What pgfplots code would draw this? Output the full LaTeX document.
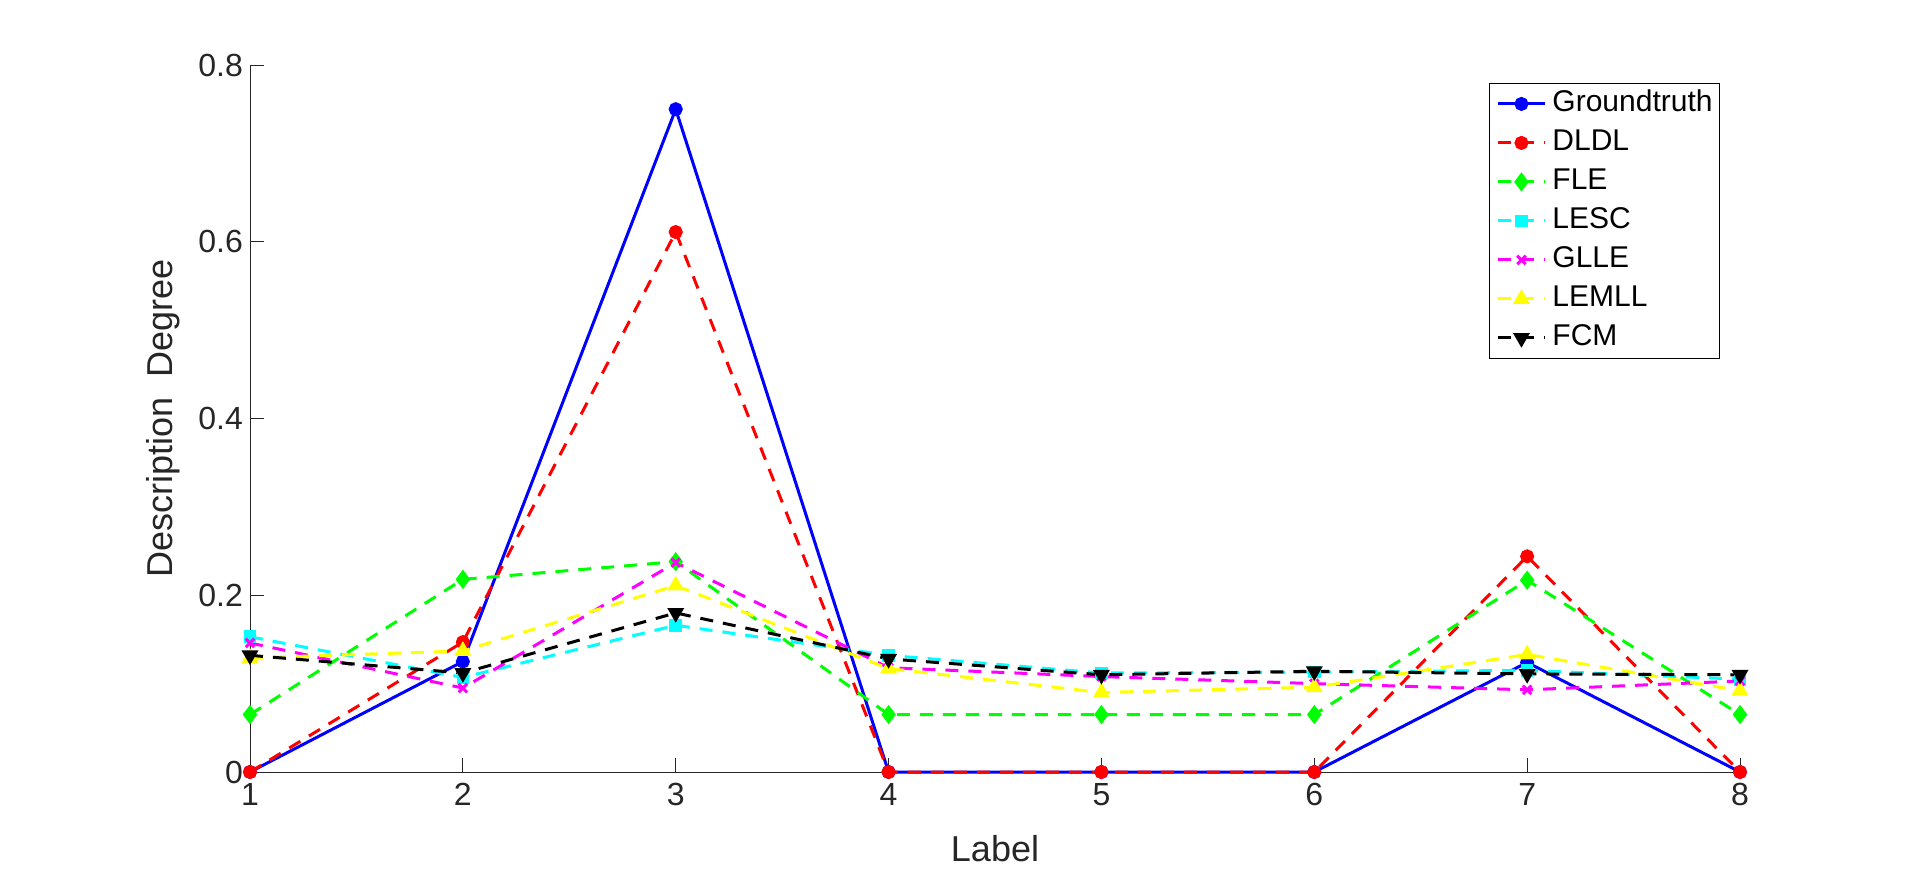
\documentclass[border=0pt]{standalone}
\usepackage{fontspec}
\setmainfont{Liberation Sans}
\usepackage{pgfplots}
\pgfplotsset{compat=1.18}
\usepackage{pgfplotstable}
\pgfplotstableread{
x GT DLDL FLE LESC GLLE LEMLL FCM
1 0 0 0.065 0.153 0.146 0.129 0.132
2 0.125 0.147 0.218 0.107 0.095 0.137 0.112
3 0.750 0.611 0.238 0.166 0.237 0.211 0.180
4 0 0 0.065 0.132 0.118 0.117 0.128
5 0 0 0.065 0.112 0.108 0.090 0.110
6 0 0 0.065 0.113 0.100 0.096 0.114
7 0.124 0.244 0.217 0.115 0.093 0.133 0.111
8 0 0 0.065 0.105 0.103 0.092 0.110
}\data
\definecolor{axgray}{rgb}{0.15,0.15,0.15}
\definecolor{mblue}{rgb}{0,0,1}
\definecolor{mred}{rgb}{1,0,0}
\definecolor{mgreen}{rgb}{0,1,0}
\definecolor{mcyan}{rgb}{0,1,1}
\definecolor{mmagenta}{rgb}{1,0,1}
\definecolor{myellow}{rgb}{1,1,0}
\definecolor{mblack}{rgb}{0,0,0}
\begin{document}
\begin{tikzpicture}
\path[use as bounding box] (0,0) rectangle (960pt,436pt);
\begin{axis}[
  at={(125pt,50pt)}, anchor=south west,
  scale only axis, width=745pt, height=353.5pt,
  xmin=1, xmax=8, ymin=0, ymax=0.8,
  xtick={1,2,3,4,5,6,7,8},
  ytick={0,0.2,0.4,0.6,0.8},
  axis x line*=bottom, axis y line*=left,
  tick align=inside,
  major tick length=7pt,
  axis line style={color=axgray, line width=0.5pt},
  tick style={color=axgray, line width=0.5pt},
  ticklabel style={color=axgray, font=\fontsize{16}{19}\selectfont},
  /pgf/number format/assume math mode=true,
  yticklabel style={/pgf/number format/fixed, /pgf/number format/precision=1},
  xticklabel style={yshift=-2pt},
  xlabel={Label},
  ylabel={Description\ \ Degree},
  label style={color=axgray, font=\fontsize{18}{21}\selectfont},
  xlabel style={at={(axis description cs:0.5,-0.109)}, anchor=center},
  ylabel style={at={(axis description cs:-0.058,0.5)}, anchor=center},
  every axis plot/.append style={line width=1.5pt},
  legend style={at={(0.9866,0.9745)}, anchor=north east, draw=black, line width=0.5pt,
    font=\fontsize{15}{18}\selectfont, inner xsep=3.5pt, inner ysep=3.2pt,
    nodes={inner sep=0pt, text height=11pt, text depth=3pt},
    row sep=5.5pt,
    /tikz/every odd column/.append style={column sep=3pt}},
  legend cell align=left,
  legend image code/.code={\draw[mark repeat=2,mark phase=2] plot coordinates {(0pt,0pt) (11.75pt,0pt) (23.5pt,0pt)};},
  clip=false,
]
\addplot[color=mblue, solid, mark=*, mark size=2.75pt, mark options={solid}] table[x=x,y=GT] {\data};
\addlegendentry{Groundtruth}
\addplot[color=mred, dash pattern=on 6.5pt off 5pt, mark=*, mark size=2.75pt, mark options={solid}] table[x=x,y=DLDL] {\data};
\addlegendentry{DLDL}
\addplot[color=mgreen, dash pattern=on 6.5pt off 5pt, mark=diamond*, mark size=3.6pt, mark options={solid}] table[x=x,y=FLE] {\data};
\addlegendentry{FLE}
\addplot[color=mcyan, dash pattern=on 6.5pt off 5pt, mark=square*, mark size=2.4pt, mark options={solid}] table[x=x,y=LESC] {\data};
\addlegendentry{LESC}
\addplot[color=mmagenta, dash pattern=on 6.5pt off 5pt, mark=x, mark size=3pt, mark options={solid}] table[x=x,y=GLLE] {\data};
\addlegendentry{GLLE}
\addplot[color=myellow, dash pattern=on 6.5pt off 5pt, mark=triangle*, mark size=3.4pt, mark options={solid}] table[x=x,y=LEMLL] {\data};
\addlegendentry{LEMLL}
\addplot[color=mblack, dash pattern=on 6.5pt off 5pt, mark=triangle*, mark size=3.4pt, mark options={solid, rotate=180}] table[x=x,y=FCM] {\data};
\addlegendentry{FCM}
\end{axis}
\end{tikzpicture}
\end{document}
